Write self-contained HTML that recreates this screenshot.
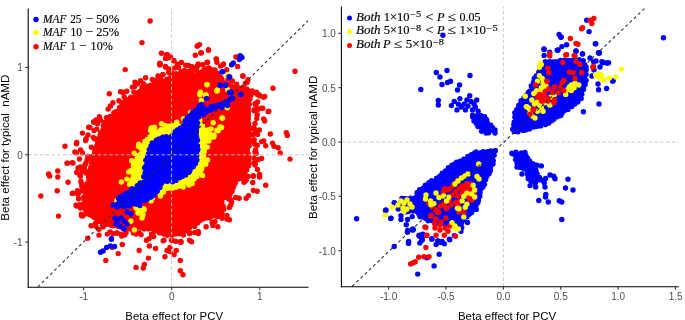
<!DOCTYPE html>
<html><head><meta charset="utf-8"><title>Beta effect scatter</title>
<style>html,body{margin:0;padding:0;background:#fff;width:685px;height:320px;overflow:hidden}svg{display:block}</style>
</head><body>
<svg width="685" height="320" viewBox="0 0 685 320">
<rect width="685" height="320" fill="#fff"/>
<g fill="#ff0000"><path d="M82.6 206.4 L83.1 196.3 L86.5 186.4 L90.1 170.3 L92.1 159.2 L96 146.1 L99.5 135 L103.5 125.6 L106.3 117.9 L116.1 110.5 L121.9 103 L130.4 96.2 L134 97.1 L142.2 87.3 L151 85.2 L160.6 82.8 L170.2 78 L176.4 73.3 L183.8 70.4 L189 70 L195.5 74.1 L203.9 69.9 L211.1 68.6 L215.2 70.6 L219.3 72.7 L220.8 77 L224.3 82.2 L229.4 84 L236 87.2 L244 86.6 L252.1 91.4 L251.2 99.8 L249.4 109.2 L248.4 118.8 L249.4 130.1 L250.3 141.2 L248.4 149.9 L249.4 166.7 L246.2 174 L235.2 182.8 L231 195.6 L221.6 197.9 L224 210 L222.2 219.1 L212.5 217.2 L203.1 219.5 L194.1 226.2 L183.4 232.5 L172.8 235.4 L166.3 236.3 L163.2 234.5 L154.5 231.6 L148.8 230.1 L141.4 228.7 L135.7 230.1 L124.3 228.4 L106.6 225 L91.5 216.7Z"/><circle cx="83.1" cy="207" r="2.7"/><circle cx="83.6" cy="203.6" r="2.7"/><circle cx="84.1" cy="199.3" r="2.7"/><circle cx="83.7" cy="197.1" r="2.7"/><circle cx="85.3" cy="192.5" r="2.7"/><circle cx="85.3" cy="189.8" r="2.7"/><circle cx="86.3" cy="186.2" r="2.7"/><circle cx="87" cy="183.6" r="2.7"/><circle cx="88.9" cy="180.7" r="2.7"/><circle cx="88.6" cy="177.2" r="2.7"/><circle cx="90.1" cy="173.1" r="2.7"/><circle cx="91.2" cy="171.2" r="2.7"/><circle cx="90.8" cy="167.4" r="2.7"/><circle cx="91.7" cy="163" r="2.7"/><circle cx="93.3" cy="159.8" r="2.7"/><circle cx="93" cy="155.9" r="2.7"/><circle cx="94.6" cy="152.5" r="2.7"/><circle cx="95" cy="149.2" r="2.7"/><circle cx="96.9" cy="145.4" r="2.7"/><circle cx="97.7" cy="142.4" r="2.7"/><circle cx="98" cy="138.6" r="2.7"/><circle cx="100.2" cy="135.1" r="2.7"/><circle cx="100.6" cy="132.8" r="2.7"/><circle cx="103.1" cy="129.6" r="2.7"/><circle cx="103.3" cy="125.4" r="2.7"/><circle cx="104.6" cy="122.4" r="2.7"/><circle cx="106.4" cy="117.6" r="2.7"/><circle cx="109.9" cy="116.4" r="2.7"/><circle cx="113.8" cy="113" r="2.7"/><circle cx="115.9" cy="111.6" r="2.7"/><circle cx="119.5" cy="107.5" r="2.7"/><circle cx="121.6" cy="102.7" r="2.7"/><circle cx="125.3" cy="101" r="2.7"/><circle cx="127" cy="99.6" r="2.7"/><circle cx="130.7" cy="97.2" r="2.7"/><circle cx="133.5" cy="98.2" r="2.7"/><circle cx="135.5" cy="95.8" r="2.7"/><circle cx="138.2" cy="92.5" r="2.7"/><circle cx="140.5" cy="90.9" r="2.7"/><circle cx="142.1" cy="87.2" r="2.7"/><circle cx="146.8" cy="86.3" r="2.7"/><circle cx="150.5" cy="85.1" r="2.7"/><circle cx="153.6" cy="84.4" r="2.7"/><circle cx="157.2" cy="83.8" r="2.7"/><circle cx="161.1" cy="82.9" r="2.7"/><circle cx="164" cy="81.1" r="2.7"/><circle cx="167" cy="79.3" r="2.7"/><circle cx="170.1" cy="77.6" r="2.7"/><circle cx="174" cy="76.2" r="2.7"/><circle cx="176.1" cy="73.7" r="2.7"/><circle cx="181" cy="71.7" r="2.7"/><circle cx="184.4" cy="70.8" r="2.7"/><circle cx="188.9" cy="71.1" r="2.7"/><circle cx="192" cy="72.6" r="2.7"/><circle cx="195.8" cy="75.5" r="2.7"/><circle cx="198.1" cy="73.8" r="2.7"/><circle cx="201.5" cy="72.1" r="2.7"/><circle cx="203.9" cy="70.2" r="2.7"/><circle cx="206.8" cy="69.2" r="2.7"/><circle cx="210.3" cy="69.5" r="2.7"/><circle cx="214.6" cy="70.5" r="2.7"/><circle cx="218.2" cy="73.6" r="2.7"/><circle cx="220.9" cy="77.5" r="2.7"/><circle cx="221.8" cy="79.5" r="2.7"/><circle cx="223.6" cy="82.6" r="2.7"/><circle cx="228.6" cy="84.4" r="2.7"/><circle cx="232.2" cy="86.8" r="2.7"/><circle cx="236.6" cy="87.8" r="2.7"/><circle cx="239.5" cy="88.2" r="2.7"/><circle cx="243.6" cy="86.9" r="2.7"/><circle cx="246.9" cy="89.2" r="2.7"/><circle cx="251.5" cy="91.7" r="2.7"/><circle cx="250.7" cy="95.7" r="2.7"/><circle cx="249.9" cy="99.3" r="2.7"/><circle cx="249.2" cy="104.2" r="2.7"/><circle cx="248.2" cy="108.3" r="2.7"/><circle cx="248.3" cy="111.9" r="2.7"/><circle cx="248.4" cy="115.6" r="2.7"/><circle cx="248.3" cy="119" r="2.7"/><circle cx="248.6" cy="123.2" r="2.7"/><circle cx="248.4" cy="126.1" r="2.7"/><circle cx="249.7" cy="129.6" r="2.7"/><circle cx="249.6" cy="134.1" r="2.7"/><circle cx="248.8" cy="138" r="2.7"/><circle cx="250.4" cy="141.4" r="2.7"/><circle cx="249.2" cy="146" r="2.7"/><circle cx="247.3" cy="149.9" r="2.7"/><circle cx="248.1" cy="153.7" r="2.7"/><circle cx="248.8" cy="157.1" r="2.7"/><circle cx="248.6" cy="160.5" r="2.7"/><circle cx="249" cy="163.6" r="2.7"/><circle cx="248.4" cy="165.9" r="2.7"/><circle cx="246.7" cy="169.9" r="2.7"/><circle cx="245.1" cy="174.2" r="2.7"/><circle cx="243.1" cy="176.1" r="2.7"/><circle cx="240.5" cy="178.4" r="2.7"/><circle cx="237.5" cy="179.5" r="2.7"/><circle cx="235.3" cy="182.9" r="2.7"/><circle cx="233.8" cy="185.8" r="2.7"/><circle cx="232.9" cy="188.2" r="2.7"/><circle cx="232" cy="191.6" r="2.7"/><circle cx="229.9" cy="194.8" r="2.7"/><circle cx="227.8" cy="195.5" r="2.7"/><circle cx="224.6" cy="197.5" r="2.7"/><circle cx="221.1" cy="197.4" r="2.7"/><circle cx="221.8" cy="202" r="2.7"/><circle cx="223.1" cy="206" r="2.7"/><circle cx="223.7" cy="209.3" r="2.7"/><circle cx="222.1" cy="213.9" r="2.7"/><circle cx="222.2" cy="218.2" r="2.7"/><circle cx="217.2" cy="216.8" r="2.7"/><circle cx="211.7" cy="216.3" r="2.7"/><circle cx="209.5" cy="217.8" r="2.7"/><circle cx="206.4" cy="217.9" r="2.7"/><circle cx="202.9" cy="219" r="2.7"/><circle cx="199.8" cy="220.7" r="2.7"/><circle cx="197.5" cy="223" r="2.7"/><circle cx="194.6" cy="226.4" r="2.7"/><circle cx="189.5" cy="227.8" r="2.7"/><circle cx="187.2" cy="230.7" r="2.7"/><circle cx="183.1" cy="231.7" r="2.7"/><circle cx="179.2" cy="233.7" r="2.7"/><circle cx="175.7" cy="234.1" r="2.7"/><circle cx="172.1" cy="235" r="2.7"/><circle cx="167.1" cy="235.2" r="2.7"/><circle cx="163.9" cy="234.1" r="2.7"/><circle cx="159.6" cy="232.9" r="2.7"/><circle cx="154.2" cy="231.7" r="2.7"/><circle cx="148.8" cy="228.9" r="2.7"/><circle cx="144.3" cy="228.9" r="2.7"/><circle cx="141.3" cy="227.8" r="2.7"/><circle cx="135.1" cy="229.3" r="2.7"/><circle cx="131.6" cy="229.6" r="2.7"/><circle cx="127.3" cy="228.9" r="2.7"/><circle cx="124.9" cy="227.3" r="2.7"/><circle cx="121.5" cy="227.6" r="2.7"/><circle cx="117.9" cy="226.2" r="2.7"/><circle cx="113.6" cy="225.7" r="2.7"/><circle cx="111" cy="225.3" r="2.7"/><circle cx="106.5" cy="224.4" r="2.7"/><circle cx="103.4" cy="222.1" r="2.7"/><circle cx="100.1" cy="221.8" r="2.7"/><circle cx="97.5" cy="220.3" r="2.7"/><circle cx="94.4" cy="217.6" r="2.7"/><circle cx="91.9" cy="215.8" r="2.7"/><circle cx="89.5" cy="214.6" r="2.7"/><circle cx="88.1" cy="211.8" r="2.7"/><circle cx="85.5" cy="209.4" r="2.7"/><circle cx="252.8" cy="92.8" r="2.7"/><circle cx="259.4" cy="95" r="2.7"/><circle cx="263.7" cy="97.2" r="2.7"/><circle cx="255" cy="103.7" r="2.7"/><circle cx="261.6" cy="108.1" r="2.7"/><circle cx="268.1" cy="111.6" r="2.7"/><circle cx="257.2" cy="114.7" r="2.7"/><circle cx="263.7" cy="119" r="2.7"/><circle cx="255" cy="123.4" r="2.7"/><circle cx="259.4" cy="130" r="2.7"/><circle cx="252.8" cy="134.4" r="2.7"/><circle cx="263.7" cy="140.9" r="2.7"/><circle cx="257.2" cy="145.3" r="2.7"/><circle cx="272.5" cy="143.1" r="2.7"/><circle cx="255" cy="151.9" r="2.7"/><circle cx="261.6" cy="158.4" r="2.7"/><circle cx="255" cy="165" r="2.7"/><circle cx="259.4" cy="174.6" r="2.7"/><circle cx="252.8" cy="182.5" r="2.7"/><circle cx="257.2" cy="191.2" r="2.7"/><circle cx="248.4" cy="195.6" r="2.7"/><circle cx="254" cy="110" r="2.7"/><circle cx="254" cy="140" r="2.7"/><circle cx="254" cy="158" r="2.7"/><circle cx="76.7" cy="142.5" r="2.7"/><circle cx="86.1" cy="138.7" r="2.7"/><circle cx="74.9" cy="151.9" r="2.7"/><circle cx="80.5" cy="150" r="2.7"/><circle cx="67.4" cy="163.1" r="2.7"/><circle cx="73" cy="163.1" r="2.7"/><circle cx="80.5" cy="166.9" r="2.7"/><circle cx="76.7" cy="172.5" r="2.7"/><circle cx="84.2" cy="168.7" r="2.7"/><circle cx="80.5" cy="176.2" r="2.7"/><circle cx="84.2" cy="187.5" r="2.7"/><circle cx="80.5" cy="191.2" r="2.7"/><circle cx="73" cy="193.1" r="2.7"/><circle cx="78.6" cy="198.7" r="2.7"/><circle cx="80.5" cy="208.1" r="2.7"/><circle cx="86.1" cy="213.7" r="2.7"/><circle cx="93.6" cy="215.6" r="2.7"/><circle cx="95.5" cy="223.1" r="2.7"/><circle cx="103" cy="226.9" r="2.7"/><circle cx="88" cy="135" r="2.7"/><circle cx="82.4" cy="133.1" r="2.7"/><circle cx="89.9" cy="127.5" r="2.7"/><circle cx="93.6" cy="121.9" r="2.7"/><circle cx="97.4" cy="123.7" r="2.7"/><circle cx="150.1" cy="21" r="2.7"/><circle cx="142" cy="42.6" r="2.7"/><circle cx="161.4" cy="53.3" r="2.7"/><circle cx="166.3" cy="55" r="2.7"/><circle cx="165.5" cy="58.4" r="2.7"/><circle cx="159.7" cy="63.2" r="2.7"/><circle cx="173.5" cy="60.5" r="2.7"/><circle cx="181.4" cy="62.5" r="2.7"/><circle cx="197.4" cy="46.1" r="2.7"/><circle cx="199.5" cy="44.6" r="2.7"/><circle cx="195.3" cy="55.3" r="2.7"/><circle cx="200.9" cy="52.9" r="2.7"/><circle cx="208.5" cy="50.2" r="2.7"/><circle cx="216.3" cy="59" r="2.7"/><circle cx="198.2" cy="64" r="2.7"/><circle cx="207" cy="62.5" r="2.7"/><circle cx="223.5" cy="64" r="2.7"/><circle cx="235.9" cy="57" r="2.7"/><circle cx="167.2" cy="54.5" r="2.7"/><circle cx="168" cy="57.9" r="2.7"/><circle cx="170.6" cy="57" r="2.7"/><circle cx="174" cy="60.8" r="2.7"/><circle cx="160.3" cy="64.2" r="2.7"/><circle cx="165.5" cy="66.5" r="2.7"/><circle cx="168.9" cy="69" r="2.7"/><circle cx="171.5" cy="72.5" r="2.7"/><circle cx="178.4" cy="67.3" r="2.7"/><circle cx="184.4" cy="70.8" r="2.7"/><circle cx="162.9" cy="74.6" r="2.7"/><circle cx="188.7" cy="72.5" r="2.7"/><circle cx="192.1" cy="67.3" r="2.7"/><circle cx="194.7" cy="68.2" r="2.7"/><circle cx="198.1" cy="65.3" r="2.7"/><circle cx="201.2" cy="52.7" r="2.7"/><circle cx="197.3" cy="45.9" r="2.7"/><circle cx="208.4" cy="49.8" r="2.7"/><circle cx="207.6" cy="62.2" r="2.7"/><circle cx="216.2" cy="59.1" r="2.7"/><circle cx="205" cy="69" r="2.7"/><circle cx="209" cy="68" r="2.7"/><circle cx="212" cy="70" r="2.7"/><circle cx="215" cy="70" r="2.7"/><circle cx="223" cy="64.8" r="2.7"/><circle cx="237.6" cy="66.5" r="2.7"/><circle cx="242.8" cy="76" r="2.7"/><circle cx="245.4" cy="83.1" r="2.7"/><circle cx="248" cy="90.5" r="2.7"/><circle cx="252.2" cy="91" r="2.7"/><circle cx="125.2" cy="69.6" r="2.7"/><circle cx="109.3" cy="93.8" r="2.7"/><circle cx="120.6" cy="91.8" r="2.7"/><circle cx="126.8" cy="91.2" r="2.7"/><circle cx="135" cy="82.1" r="2.7"/><circle cx="143.3" cy="83.6" r="2.7"/><circle cx="162.8" cy="74.7" r="2.7"/><circle cx="159.7" cy="65" r="2.7"/><circle cx="165.5" cy="67" r="2.7"/><circle cx="96" cy="120" r="2.7"/><circle cx="243" cy="76" r="2.7"/><circle cx="259.6" cy="95.9" r="2.7"/><circle cx="264.7" cy="96.5" r="2.7"/><circle cx="273" cy="88.3" r="2.7"/><circle cx="295" cy="71.2" r="2.7"/><circle cx="268.8" cy="111.3" r="2.7"/><circle cx="262.7" cy="108.3" r="2.7"/><circle cx="257.5" cy="102" r="2.7"/><circle cx="65" cy="146.3" r="2.7"/><circle cx="67.1" cy="163.2" r="2.7"/><circle cx="72.3" cy="162.6" r="2.7"/><circle cx="48.6" cy="174" r="2.7"/><circle cx="57.8" cy="171" r="2.7"/><circle cx="76.4" cy="143.7" r="2.7"/><circle cx="85.6" cy="140.6" r="2.7"/><circle cx="88.7" cy="127.2" r="2.7"/><circle cx="93.9" cy="122" r="2.7"/><circle cx="76.4" cy="152.9" r="2.7"/><circle cx="82.5" cy="153" r="2.7"/><circle cx="79.5" cy="159" r="2.7"/><circle cx="78" cy="168" r="2.7"/><circle cx="82" cy="171" r="2.7"/><circle cx="86" cy="173" r="2.7"/><circle cx="90" cy="170" r="2.7"/><circle cx="80" cy="175" r="2.7"/><circle cx="85" cy="165" r="2.7"/><circle cx="264.7" cy="121" r="2.7"/><circle cx="257.5" cy="134.4" r="2.7"/><circle cx="270.3" cy="134" r="2.7"/><circle cx="286.3" cy="132.8" r="2.7"/><circle cx="287.4" cy="135.4" r="2.7"/><circle cx="265.7" cy="145.7" r="2.7"/><circle cx="274" cy="146.3" r="2.7"/><circle cx="278.1" cy="147.8" r="2.7"/><circle cx="280.2" cy="153" r="2.7"/><circle cx="290" cy="159.1" r="2.7"/><circle cx="258.5" cy="159.5" r="2.7"/><circle cx="257.5" cy="169.4" r="2.7"/><circle cx="259.6" cy="174.5" r="2.7"/><circle cx="255.5" cy="150.9" r="2.7"/><circle cx="261.6" cy="141.6" r="2.7"/><circle cx="254" cy="128" r="2.7"/><circle cx="254" cy="140" r="2.7"/><circle cx="40.8" cy="196" r="2.7"/><circle cx="57.2" cy="190.8" r="2.7"/><circle cx="58.5" cy="216.1" r="2.7"/><circle cx="68.1" cy="182.2" r="2.7"/><circle cx="72.3" cy="193.5" r="2.7"/><circle cx="77.4" cy="190.8" r="2.7"/><circle cx="81.9" cy="186.3" r="2.7"/><circle cx="79.5" cy="204.8" r="2.7"/><circle cx="49.6" cy="176" r="2.7"/><circle cx="57.8" cy="177" r="2.7"/><circle cx="265.7" cy="185.3" r="2.7"/><circle cx="253.4" cy="190.4" r="2.7"/><circle cx="246.2" cy="198.2" r="2.7"/><circle cx="259.6" cy="177" r="2.7"/><circle cx="245.2" cy="181.1" r="2.7"/><circle cx="87.7" cy="238.2" r="2.7"/><circle cx="99" cy="235.1" r="2.7"/><circle cx="107.3" cy="234.1" r="2.7"/><circle cx="116.5" cy="233" r="2.7"/><circle cx="121.7" cy="236.1" r="2.7"/><circle cx="124.7" cy="235.1" r="2.7"/><circle cx="136" cy="234.1" r="2.7"/><circle cx="122.3" cy="244.4" r="2.7"/><circle cx="118.2" cy="253.6" r="2.7"/><circle cx="105.8" cy="260.4" r="2.7"/><circle cx="139.2" cy="250.5" r="2.7"/><circle cx="149.4" cy="246" r="2.7"/><circle cx="155.6" cy="248.5" r="2.7"/><circle cx="148.4" cy="258.1" r="2.7"/><circle cx="144.3" cy="264.5" r="2.7"/><circle cx="143.3" cy="268" r="2.7"/><circle cx="136" cy="267.4" r="2.7"/><circle cx="146.4" cy="240.2" r="2.7"/><circle cx="151.5" cy="234.1" r="2.7"/><circle cx="163.9" cy="240.2" r="2.7"/><circle cx="164.9" cy="256.7" r="2.7"/><circle cx="167" cy="250.5" r="2.7"/><circle cx="112.4" cy="247.4" r="2.7"/><circle cx="173.1" cy="233" r="2.7"/><circle cx="183.4" cy="235.1" r="2.7"/><circle cx="189.6" cy="233.6" r="2.7"/><circle cx="194.7" cy="232.6" r="2.7"/><circle cx="175.6" cy="241.3" r="2.7"/><circle cx="180.9" cy="242.3" r="2.7"/><circle cx="189.6" cy="240.2" r="2.7"/><circle cx="191.6" cy="241.7" r="2.7"/><circle cx="170" cy="247.4" r="2.7"/><circle cx="176.2" cy="250.5" r="2.7"/><circle cx="174.1" cy="254.6" r="2.7"/><circle cx="170" cy="251.6" r="2.7"/><circle cx="180.3" cy="260.4" r="2.7"/><circle cx="180.3" cy="270.7" r="2.7"/><circle cx="183" cy="274.8" r="2.7"/><circle cx="76" cy="205.1" r="2.7"/><circle cx="76.6" cy="206" r="2.7"/><circle cx="77.7" cy="194" r="2.7"/><circle cx="78" cy="194.3" r="2.7"/><circle cx="81.6" cy="183.7" r="2.7"/><circle cx="85.8" cy="172.3" r="2.7"/><circle cx="80.9" cy="181.4" r="2.7"/><circle cx="86" cy="162.9" r="2.7"/><circle cx="88.7" cy="158.8" r="2.7"/><circle cx="87.2" cy="159.8" r="2.7"/><circle cx="87.9" cy="156.3" r="2.7"/><circle cx="91.4" cy="147.3" r="2.7"/><circle cx="93.3" cy="137.4" r="2.7"/><circle cx="94.7" cy="138.9" r="2.7"/><circle cx="94" cy="130.4" r="2.7"/><circle cx="96.7" cy="129.1" r="2.7"/><circle cx="100.4" cy="120.2" r="2.7"/><circle cx="99.4" cy="116.7" r="2.7"/><circle cx="108.1" cy="109.1" r="2.7"/><circle cx="110.4" cy="105.9" r="2.7"/><circle cx="118.9" cy="100.7" r="2.7"/><circle cx="112.9" cy="102.8" r="2.7"/><circle cx="124.2" cy="96.9" r="2.7"/><circle cx="123.3" cy="92.4" r="2.7"/><circle cx="133.8" cy="92.1" r="2.7"/><circle cx="134.5" cy="86.7" r="2.7"/><circle cx="132.3" cy="87.1" r="2.7"/><circle cx="137.7" cy="83.8" r="2.7"/><circle cx="140.6" cy="80.6" r="2.7"/><circle cx="145.6" cy="77.7" r="2.7"/><circle cx="152.4" cy="79.4" r="2.7"/><circle cx="156.5" cy="80.5" r="2.7"/><circle cx="160.6" cy="78.6" r="2.7"/><circle cx="158" cy="75.9" r="2.7"/><circle cx="168.7" cy="72.5" r="2.7"/><circle cx="174.8" cy="68" r="2.7"/><circle cx="177.5" cy="64.3" r="2.7"/><circle cx="188.4" cy="65.4" r="2.7"/><circle cx="185.7" cy="65.2" r="2.7"/><circle cx="196.6" cy="70.2" r="2.7"/><circle cx="192" cy="66.7" r="2.7"/><circle cx="197.3" cy="66.2" r="2.7"/><circle cx="202.7" cy="64.7" r="2.7"/><circle cx="216.9" cy="62.2" r="2.7"/><circle cx="220.5" cy="66.1" r="2.7"/><circle cx="226.8" cy="69.8" r="2.7"/><circle cx="229.8" cy="77" r="2.7"/><circle cx="227.8" cy="79.6" r="2.7"/><circle cx="231.2" cy="81" r="2.7"/><circle cx="232.4" cy="81" r="2.7"/><circle cx="236.6" cy="84.1" r="2.7"/><circle cx="247.1" cy="82.6" r="2.7"/><circle cx="247.9" cy="79.7" r="2.7"/><circle cx="256.5" cy="92.3" r="2.7"/><circle cx="256.9" cy="94.2" r="2.7"/><circle cx="258.1" cy="109.3" r="2.7"/><circle cx="256" cy="105.2" r="2.7"/><circle cx="254.3" cy="110.7" r="2.7"/><circle cx="253.2" cy="127.9" r="2.7"/><circle cx="256.7" cy="118.5" r="2.7"/><circle cx="255.6" cy="131.3" r="2.7"/><circle cx="255.4" cy="130" r="2.7"/><circle cx="255.5" cy="149.9" r="2.7"/><circle cx="254.8" cy="144.3" r="2.7"/><circle cx="255.2" cy="162.9" r="2.7"/><circle cx="254.1" cy="163" r="2.7"/><circle cx="256.2" cy="153.4" r="2.7"/><circle cx="253.5" cy="176.2" r="2.7"/><circle cx="253.2" cy="175.8" r="2.7"/><circle cx="244" cy="182.2" r="2.7"/><circle cx="248.2" cy="176.5" r="2.7"/><circle cx="246.3" cy="179.7" r="2.7"/><circle cx="236.1" cy="197.6" r="2.7"/><circle cx="239.1" cy="198.3" r="2.7"/><circle cx="235.7" cy="197.4" r="2.7"/><circle cx="230.9" cy="199.9" r="2.7"/><circle cx="231.6" cy="202.1" r="2.7"/><circle cx="229.3" cy="207.5" r="2.7"/><circle cx="230.7" cy="205.1" r="2.7"/><circle cx="228.7" cy="199.1" r="2.7"/><circle cx="229.5" cy="219.7" r="2.7"/><circle cx="227" cy="215.7" r="2.7"/><circle cx="227.2" cy="219.3" r="2.7"/><circle cx="212.1" cy="222.5" r="2.7"/><circle cx="217.8" cy="226.7" r="2.7"/><circle cx="215" cy="221.8" r="2.7"/><circle cx="212.8" cy="225.4" r="2.7"/><circle cx="206.1" cy="226.8" r="2.7"/><circle cx="198.2" cy="231.5" r="2.7"/><circle cx="190.1" cy="233" r="2.7"/><circle cx="198.3" cy="233.5" r="2.7"/><circle cx="180" cy="242" r="2.7"/><circle cx="180.9" cy="241.4" r="2.7"/><circle cx="172" cy="240.1" r="2.7"/><circle cx="171.4" cy="240.1" r="2.7"/><circle cx="163.2" cy="240.8" r="2.7"/><circle cx="153.7" cy="236.6" r="2.7"/><circle cx="149.2" cy="238.6" r="2.7"/><circle cx="141.1" cy="234.6" r="2.7"/><circle cx="138.9" cy="232.6" r="2.7"/><circle cx="133.4" cy="232.9" r="2.7"/><circle cx="126" cy="232.8" r="2.7"/><circle cx="110.1" cy="231.9" r="2.7"/><circle cx="117.3" cy="233.1" r="2.7"/><circle cx="112.9" cy="233.8" r="2.7"/><circle cx="121.2" cy="234.1" r="2.7"/><circle cx="98.9" cy="229.2" r="2.7"/><circle cx="95.9" cy="226.2" r="2.7"/><circle cx="91.1" cy="225.8" r="2.7"/><circle cx="81.4" cy="214.1" r="2.7"/><circle cx="81.6" cy="215.8" r="2.7"/><circle cx="82.8" cy="215.9" r="2.7"/></g>
<g fill="#ffff00"><path d="M160.6 129 L165.5 125.6 L181.8 125.4 L187.1 118.2 L192.2 114.7 L195.5 118.7 L197.7 129 L208.9 129.5 L210.5 134.2 L208.1 135.5 L205 144.7 L204.4 159.8 L202 171.2 L194 178.7 L185.2 183.6 L176.5 188.4 L162.5 189.9 L155.8 193.8 L152.5 198 L145.3 197.4 L138.8 195.6 L131.6 189.3 L131.4 180.4 L132.8 172.1 L134.2 161.2 L139.7 152.9 L143.9 141.7 L154.5 129.8Z"/><circle cx="161" cy="129.8" r="2.7"/><circle cx="165.1" cy="125.4" r="2.7"/><circle cx="169" cy="126.2" r="2.7"/><circle cx="172.1" cy="125.6" r="2.7"/><circle cx="175.7" cy="125.2" r="2.7"/><circle cx="178.5" cy="125.9" r="2.7"/><circle cx="182.8" cy="126.1" r="2.7"/><circle cx="185.4" cy="122.2" r="2.7"/><circle cx="187.1" cy="118.1" r="2.7"/><circle cx="192.8" cy="115.7" r="2.7"/><circle cx="194.7" cy="118.2" r="2.7"/><circle cx="195.8" cy="122.7" r="2.7"/><circle cx="196.4" cy="125.6" r="2.7"/><circle cx="197.5" cy="130.2" r="2.7"/><circle cx="200.6" cy="128.9" r="2.7"/><circle cx="204.5" cy="129.7" r="2.7"/><circle cx="208.8" cy="129.6" r="2.7"/><circle cx="210.4" cy="134.4" r="2.7"/><circle cx="207.7" cy="134.7" r="2.7"/><circle cx="207.4" cy="138" r="2.7"/><circle cx="206.1" cy="141" r="2.7"/><circle cx="204.1" cy="145" r="2.7"/><circle cx="204" cy="149.1" r="2.7"/><circle cx="204.2" cy="151.7" r="2.7"/><circle cx="203.6" cy="155.8" r="2.7"/><circle cx="204.2" cy="160.5" r="2.7"/><circle cx="202.6" cy="163.3" r="2.7"/><circle cx="201.9" cy="168" r="2.7"/><circle cx="201" cy="170.2" r="2.7"/><circle cx="198.3" cy="173.2" r="2.7"/><circle cx="197" cy="176.4" r="2.7"/><circle cx="194.1" cy="179.1" r="2.7"/><circle cx="191.5" cy="179.6" r="2.7"/><circle cx="187.4" cy="182.2" r="2.7"/><circle cx="185.4" cy="182.4" r="2.7"/><circle cx="182.4" cy="184.6" r="2.7"/><circle cx="179" cy="186.1" r="2.7"/><circle cx="175.8" cy="187.2" r="2.7"/><circle cx="172.5" cy="188.1" r="2.7"/><circle cx="170.1" cy="188.1" r="2.7"/><circle cx="166.6" cy="188.6" r="2.7"/><circle cx="162.1" cy="190" r="2.7"/><circle cx="159.4" cy="191.3" r="2.7"/><circle cx="154.8" cy="193.3" r="2.7"/><circle cx="152" cy="198.2" r="2.7"/><circle cx="148.3" cy="197" r="2.7"/><circle cx="146" cy="196.2" r="2.7"/><circle cx="142.1" cy="196.5" r="2.7"/><circle cx="139.5" cy="194.4" r="2.7"/><circle cx="134.8" cy="191.4" r="2.7"/><circle cx="132.8" cy="188.6" r="2.7"/><circle cx="132.4" cy="185.4" r="2.7"/><circle cx="131.6" cy="180.1" r="2.7"/><circle cx="133.3" cy="176.5" r="2.7"/><circle cx="132.9" cy="172.6" r="2.7"/><circle cx="133.5" cy="168.2" r="2.7"/><circle cx="133.4" cy="165.4" r="2.7"/><circle cx="135.4" cy="161.6" r="2.7"/><circle cx="137.2" cy="157.9" r="2.7"/><circle cx="137.9" cy="155.9" r="2.7"/><circle cx="140.9" cy="153.9" r="2.7"/><circle cx="141.4" cy="149" r="2.7"/><circle cx="142.8" cy="145.7" r="2.7"/><circle cx="145" cy="141.5" r="2.7"/><circle cx="147.4" cy="139.5" r="2.7"/><circle cx="150.1" cy="136.6" r="2.7"/><circle cx="152.3" cy="132.9" r="2.7"/><circle cx="154.5" cy="130.1" r="2.7"/><circle cx="136" cy="208" r="2.7"/><circle cx="140" cy="211" r="2.7"/><circle cx="144" cy="209" r="2.7"/><circle cx="138" cy="213" r="2.7"/><circle cx="151.9" cy="198.6" r="2.7"/><circle cx="162" cy="182" r="2.7"/><circle cx="166" cy="184" r="2.7"/><circle cx="169" cy="181" r="2.7"/><circle cx="200" cy="93.8" r="2.7"/><circle cx="205.7" cy="95.6" r="2.7"/><circle cx="216.9" cy="91" r="2.7"/><circle cx="227.2" cy="107.8" r="2.7"/><circle cx="222.6" cy="118.1" r="2.7"/><circle cx="221.6" cy="127.5" r="2.7"/><circle cx="216.9" cy="130.3" r="2.7"/><circle cx="214.1" cy="135" r="2.7"/><circle cx="213.2" cy="122.8" r="2.7"/><circle cx="190.7" cy="112.5" r="2.7"/><circle cx="121.3" cy="181.9" r="2.7"/><circle cx="126.9" cy="179.1" r="2.7"/><circle cx="117.5" cy="200.6" r="2.7"/><circle cx="130.8" cy="221.3" r="2.7"/><circle cx="134.3" cy="230" r="2.7"/><circle cx="140" cy="213" r="2.7"/><circle cx="142" cy="218" r="2.7"/><circle cx="139.5" cy="205.5" r="2.7"/><circle cx="144" cy="210" r="2.7"/><circle cx="141" cy="208" r="2.7"/><circle cx="143" cy="215" r="2.7"/><circle cx="206.9" cy="84.7" r="2.7"/><circle cx="217.2" cy="90.3" r="2.7"/><circle cx="200.4" cy="92.2" r="2.7"/><circle cx="206" cy="95" r="2.7"/><circle cx="199.8" cy="94.8" r="2.7"/><circle cx="227.3" cy="76" r="2.7"/><circle cx="227.7" cy="75.3" r="2.7"/><circle cx="207" cy="84.6" r="2.7"/><circle cx="217.4" cy="90.3" r="2.7"/><circle cx="227.7" cy="89.7" r="2.7"/><circle cx="192.7" cy="112.4" r="2.7"/><circle cx="201.3" cy="100.5" r="2.7"/><circle cx="205.6" cy="95" r="2.7"/><circle cx="222" cy="118" r="2.7"/><circle cx="220" cy="127" r="2.7"/><circle cx="218.2" cy="130.7" r="2.7"/><circle cx="212" cy="137" r="2.7"/><circle cx="213.8" cy="136.9" r="2.7"/><circle cx="116.8" cy="201" r="2.7"/><circle cx="164" cy="180" r="2.7"/><circle cx="168" cy="182" r="2.7"/><circle cx="172" cy="184" r="2.7"/><circle cx="161.5" cy="123.7" r="2.7"/><circle cx="176.7" cy="122.3" r="2.7"/><circle cx="183.4" cy="118.8" r="2.7"/><circle cx="194.3" cy="112.2" r="2.7"/><circle cx="199.8" cy="120.4" r="2.7"/><circle cx="202" cy="125.6" r="2.7"/><circle cx="202.4" cy="125.8" r="2.7"/><circle cx="211.1" cy="128.9" r="2.7"/><circle cx="208.9" cy="141.1" r="2.7"/><circle cx="207.5" cy="160" r="2.7"/><circle cx="207.3" cy="147.1" r="2.7"/><circle cx="205.7" cy="164.2" r="2.7"/><circle cx="202.6" cy="175.4" r="2.7"/><circle cx="188.9" cy="185" r="2.7"/><circle cx="192.1" cy="183.6" r="2.7"/><circle cx="183.2" cy="187.1" r="2.7"/><circle cx="163.5" cy="192.1" r="2.7"/><circle cx="160.5" cy="196" r="2.7"/><circle cx="151" cy="200.9" r="2.7"/><circle cx="137.6" cy="199.6" r="2.7"/><circle cx="137.6" cy="197.1" r="2.7"/><circle cx="130.5" cy="194.1" r="2.7"/><circle cx="129.6" cy="184.3" r="2.7"/><circle cx="128.6" cy="172.1" r="2.7"/><circle cx="131.7" cy="160.8" r="2.7"/><circle cx="130.7" cy="170.6" r="2.7"/><circle cx="134.2" cy="153.3" r="2.7"/><circle cx="138.8" cy="144.1" r="2.7"/><circle cx="138.5" cy="146.4" r="2.7"/><circle cx="150.6" cy="130.4" r="2.7"/><circle cx="151.3" cy="128" r="2.7"/><circle cx="154.4" cy="127.2" r="2.7"/></g>
<g fill="#0000ff"><path d="M170.7 136.6 L182.5 124.8 L187.5 117.3 L195 109.8 L198.4 105.2 L201.6 104.4 L203.3 108 L199.5 117.5 L197.4 126.8 L196.5 136.7 L197.9 145.1 L197.9 155.9 L195.3 164 L188.6 173.3 L180.4 178.7 L172.6 182.7 L164.3 181.2 L159.9 187.7 L158.3 192.1 L151 198 L144.7 201.2 L140.4 205.5 L132.9 203.9 L125.1 207.2 L118.3 206.5 L116.4 203.9 L121.8 195.9 L126.2 192.9 L132.5 188.2 L137.2 185.1 L143.5 180.9 L144.1 172 L145.5 160.9 L148.2 150 L152.1 142.1 L162.6 136.9Z"/><circle cx="171.3" cy="136.4" r="2.7"/><circle cx="172.8" cy="135.1" r="2.7"/><circle cx="175.3" cy="131.6" r="2.7"/><circle cx="177.4" cy="130" r="2.7"/><circle cx="180.2" cy="128.3" r="2.7"/><circle cx="183.5" cy="125.9" r="2.7"/><circle cx="185.1" cy="120.7" r="2.7"/><circle cx="187.3" cy="117.6" r="2.7"/><circle cx="190.8" cy="115.1" r="2.7"/><circle cx="192.5" cy="112.5" r="2.7"/><circle cx="195.6" cy="110.5" r="2.7"/><circle cx="199.1" cy="106.2" r="2.7"/><circle cx="201.6" cy="104.4" r="2.7"/><circle cx="203.3" cy="107.7" r="2.7"/><circle cx="201.6" cy="111" r="2.7"/><circle cx="200.6" cy="113.8" r="2.7"/><circle cx="198.6" cy="117" r="2.7"/><circle cx="197.4" cy="122.6" r="2.7"/><circle cx="197" cy="126.4" r="2.7"/><circle cx="196.4" cy="130.8" r="2.7"/><circle cx="196.3" cy="132.9" r="2.7"/><circle cx="196.5" cy="136.9" r="2.7"/><circle cx="197.5" cy="140.3" r="2.7"/><circle cx="197.4" cy="145.7" r="2.7"/><circle cx="197.9" cy="149.4" r="2.7"/><circle cx="196.7" cy="152" r="2.7"/><circle cx="196.8" cy="155.4" r="2.7"/><circle cx="196.9" cy="159.9" r="2.7"/><circle cx="195.5" cy="163.5" r="2.7"/><circle cx="193.2" cy="166.7" r="2.7"/><circle cx="190" cy="170.3" r="2.7"/><circle cx="188.9" cy="172.3" r="2.7"/><circle cx="185.7" cy="174.9" r="2.7"/><circle cx="182.4" cy="176.3" r="2.7"/><circle cx="179.6" cy="177.8" r="2.7"/><circle cx="175.9" cy="180.4" r="2.7"/><circle cx="172.7" cy="181.7" r="2.7"/><circle cx="167.5" cy="181.2" r="2.7"/><circle cx="164.3" cy="180.2" r="2.7"/><circle cx="161.4" cy="183.6" r="2.7"/><circle cx="159.9" cy="187.5" r="2.7"/><circle cx="157.2" cy="191.2" r="2.7"/><circle cx="154.2" cy="194.8" r="2.7"/><circle cx="151" cy="197" r="2.7"/><circle cx="147" cy="199.5" r="2.7"/><circle cx="144.2" cy="200.4" r="2.7"/><circle cx="139.9" cy="205.6" r="2.7"/><circle cx="136.3" cy="204.3" r="2.7"/><circle cx="132.7" cy="203.3" r="2.7"/><circle cx="129.5" cy="205.8" r="2.7"/><circle cx="124.8" cy="206.2" r="2.7"/><circle cx="122.2" cy="205.9" r="2.7"/><circle cx="117.8" cy="206.6" r="2.7"/><circle cx="116.9" cy="204.4" r="2.7"/><circle cx="119.4" cy="200.7" r="2.7"/><circle cx="122" cy="195.7" r="2.7"/><circle cx="125.7" cy="193.4" r="2.7"/><circle cx="129.9" cy="191.6" r="2.7"/><circle cx="132.1" cy="188.8" r="2.7"/><circle cx="137.3" cy="185.6" r="2.7"/><circle cx="140.2" cy="183" r="2.7"/><circle cx="144.1" cy="181.9" r="2.7"/><circle cx="143.7" cy="176.6" r="2.7"/><circle cx="145.1" cy="172.8" r="2.7"/><circle cx="144.6" cy="167.8" r="2.7"/><circle cx="146.2" cy="165.4" r="2.7"/><circle cx="145.9" cy="160.3" r="2.7"/><circle cx="147.6" cy="157.2" r="2.7"/><circle cx="148.4" cy="153.9" r="2.7"/><circle cx="149.2" cy="149.6" r="2.7"/><circle cx="151" cy="145.9" r="2.7"/><circle cx="152.3" cy="143" r="2.7"/><circle cx="156.4" cy="140.3" r="2.7"/><circle cx="158.9" cy="138.9" r="2.7"/><circle cx="162.8" cy="137.2" r="2.7"/><circle cx="166.2" cy="136.8" r="2.7"/><path d="M201.1 110 L210.5 107 L220.6 104 L228.8 99.9 L232.1 97.7 L232.4 98.2 L227.1 102.7 L218.3 107.1 L209.3 111.6 L202.9 114.8Z"/><circle cx="202.1" cy="111" r="2.7"/><circle cx="205.4" cy="109" r="2.7"/><circle cx="211" cy="106.8" r="2.7"/><circle cx="214.5" cy="105.9" r="2.7"/><circle cx="217.6" cy="105.6" r="2.7"/><circle cx="221" cy="104.1" r="2.7"/><circle cx="224.8" cy="102.5" r="2.7"/><circle cx="228.9" cy="100.6" r="2.7"/><circle cx="231.8" cy="98.3" r="2.7"/><circle cx="231" cy="98.3" r="2.7"/><circle cx="226.8" cy="101.8" r="2.7"/><circle cx="224.3" cy="104.1" r="2.7"/><circle cx="220.9" cy="104.6" r="2.7"/><circle cx="218" cy="106" r="2.7"/><circle cx="214.5" cy="108" r="2.7"/><circle cx="211.4" cy="109.5" r="2.7"/><circle cx="209.1" cy="110.4" r="2.7"/><circle cx="206.3" cy="111.9" r="2.7"/><circle cx="203.5" cy="114.5" r="2.7"/><circle cx="221.9" cy="71.9" r="2.7"/><circle cx="229.4" cy="77.5" r="2.7"/><circle cx="220" cy="85" r="2.7"/><circle cx="225.6" cy="85" r="2.7"/><circle cx="229.4" cy="92.5" r="2.7"/><circle cx="240.6" cy="94.4" r="2.7"/><circle cx="227.5" cy="105.6" r="2.7"/><circle cx="221.9" cy="107.5" r="2.7"/><circle cx="240.2" cy="55.7" r="2.7"/><circle cx="241.9" cy="57.4" r="2.7"/><circle cx="239.3" cy="59.6" r="2.7"/><circle cx="231.6" cy="64.8" r="2.7"/><circle cx="233.3" cy="63" r="2.7"/><circle cx="223" cy="71.6" r="2.7"/><circle cx="229" cy="76.8" r="2.7"/><circle cx="220.4" cy="85.4" r="2.7"/><circle cx="225.6" cy="85.4" r="2.7"/><circle cx="230.8" cy="92.3" r="2.7"/><circle cx="241" cy="94.5" r="2.7"/><circle cx="232.5" cy="98.3" r="2.7"/><circle cx="206.6" cy="98.4" r="2.7"/><circle cx="231" cy="92.3" r="2.7"/><circle cx="165.3" cy="181" r="2.7"/><circle cx="111.4" cy="239.2" r="2.7"/><circle cx="100.5" cy="252.2" r="2.7"/><circle cx="103.1" cy="251" r="2.7"/><circle cx="106.6" cy="247.4" r="2.7"/><circle cx="110.3" cy="246" r="2.7"/><circle cx="114.5" cy="246.4" r="2.7"/><circle cx="115" cy="218" r="2.7"/><circle cx="118" cy="220" r="2.7"/><circle cx="121" cy="218" r="2.7"/><circle cx="124" cy="221" r="2.7"/><circle cx="127" cy="224" r="2.7"/><circle cx="120" cy="226" r="2.7"/><circle cx="124" cy="229" r="2.7"/><circle cx="116" cy="224" r="2.7"/><circle cx="111.5" cy="238.8" r="2.7"/><circle cx="113" cy="205" r="2.7"/><circle cx="117" cy="207" r="2.7"/><circle cx="118.5" cy="198" r="2.7"/><circle cx="122" cy="197" r="2.7"/><circle cx="150" cy="197" r="2.7"/><circle cx="153" cy="195" r="2.7"/><circle cx="127" cy="212" r="2.7"/><circle cx="131" cy="214" r="2.7"/></g>
<line x1="171.6" y1="287.3" x2="171.6" y2="7.7" stroke="#c4c4c4" stroke-width="0.95" stroke-dasharray="3.3 2.5"/>
<line x1="28.2" y1="154.8" x2="308.5" y2="154.8" stroke="#c4c4c4" stroke-width="0.95" stroke-dasharray="3.3 2.5"/>
<line x1="37.8" y1="287" x2="308.1" y2="20.6" stroke="#2a2a2a" stroke-width="1.05" stroke-dasharray="3.1 2.7"/>
<g fill="#0000ff"><path d="M514.1 132.8 L512.2 129.6 L513.1 121.2 L514.8 111.8 L517.6 105.8 L523.3 98 L529.8 89.9 L534.5 78.7 L540 67.7 L544.8 61.5 L560.1 60.1 L574.9 59.6 L583 60.5 L586.4 66.5 L587.4 75 L586.4 80.7 L583.7 90.3 L582.3 99.1 L575 105 L565.7 111.2 L557.9 117.5 L548.7 123.5 L533.9 128 L522.7 131.4Z"/><circle cx="514.4" cy="131.5" r="2.7"/><circle cx="512.7" cy="129.3" r="2.7"/><circle cx="513.8" cy="124.8" r="2.7"/><circle cx="514.2" cy="122.1" r="2.7"/><circle cx="514.8" cy="117.1" r="2.7"/><circle cx="514.8" cy="112.7" r="2.7"/><circle cx="516.7" cy="109.7" r="2.7"/><circle cx="518.7" cy="105.5" r="2.7"/><circle cx="520.4" cy="104.2" r="2.7"/><circle cx="521.1" cy="100.6" r="2.7"/><circle cx="524.1" cy="97.7" r="2.7"/><circle cx="526.5" cy="95.2" r="2.7"/><circle cx="528.5" cy="92.3" r="2.7"/><circle cx="530.2" cy="90.9" r="2.7"/><circle cx="531.3" cy="86" r="2.7"/><circle cx="533.4" cy="82.4" r="2.7"/><circle cx="534.2" cy="78.4" r="2.7"/><circle cx="536.2" cy="75.9" r="2.7"/><circle cx="538.8" cy="72.2" r="2.7"/><circle cx="539.9" cy="68.4" r="2.7"/><circle cx="542.1" cy="65" r="2.7"/><circle cx="545.3" cy="61.8" r="2.7"/><circle cx="549.4" cy="61.7" r="2.7"/><circle cx="552.7" cy="61.9" r="2.7"/><circle cx="555.7" cy="61.7" r="2.7"/><circle cx="560.3" cy="60.4" r="2.7"/><circle cx="564.3" cy="60.1" r="2.7"/><circle cx="568.3" cy="60.5" r="2.7"/><circle cx="571" cy="60.7" r="2.7"/><circle cx="574.8" cy="59.6" r="2.7"/><circle cx="579.2" cy="59.8" r="2.7"/><circle cx="583.2" cy="60.6" r="2.7"/><circle cx="584.6" cy="64.6" r="2.7"/><circle cx="586.1" cy="66.9" r="2.7"/><circle cx="586.1" cy="70" r="2.7"/><circle cx="586.1" cy="74.4" r="2.7"/><circle cx="586.1" cy="80.4" r="2.7"/><circle cx="585.1" cy="84.4" r="2.7"/><circle cx="583.6" cy="86.5" r="2.7"/><circle cx="583.5" cy="89.4" r="2.7"/><circle cx="581.8" cy="94.3" r="2.7"/><circle cx="581.2" cy="98.6" r="2.7"/><circle cx="577.8" cy="101.9" r="2.7"/><circle cx="574.8" cy="104.1" r="2.7"/><circle cx="571.8" cy="106.6" r="2.7"/><circle cx="567.9" cy="109.4" r="2.7"/><circle cx="564.9" cy="110.2" r="2.7"/><circle cx="562.1" cy="113.1" r="2.7"/><circle cx="560.8" cy="115.5" r="2.7"/><circle cx="557.4" cy="116.7" r="2.7"/><circle cx="553.8" cy="119.3" r="2.7"/><circle cx="551.6" cy="120.8" r="2.7"/><circle cx="548.7" cy="123" r="2.7"/><circle cx="545.5" cy="124.6" r="2.7"/><circle cx="540.7" cy="125.9" r="2.7"/><circle cx="536.7" cy="126.4" r="2.7"/><circle cx="533.6" cy="127.1" r="2.7"/><circle cx="529.4" cy="129.1" r="2.7"/><circle cx="525.6" cy="129.9" r="2.7"/><circle cx="523.3" cy="130.4" r="2.7"/><circle cx="518" cy="131.8" r="2.7"/><path d="M495.3 150.2 L495.3 151.2 L494.4 160.2 L491.7 167.5 L487.9 176.9 L485.2 184.2 L481 189.3 L479.3 199.8 L474.3 209.7 L464.1 219.9 L459.4 226 L451.7 224.4 L440.3 224.4 L428.6 220.5 L419.2 216.8 L412.4 199.7 L417.4 192.9 L424.8 184.4 L432.1 180.8 L439.8 176 L445.5 170.2 L450.9 164.8 L460.1 160.2 L467.6 156.4 L476.7 151.9Z"/><circle cx="494.8" cy="150.9" r="2.7"/><circle cx="495.3" cy="150.7" r="2.7"/><circle cx="494.1" cy="155.3" r="2.7"/><circle cx="493.2" cy="160.7" r="2.7"/><circle cx="493" cy="164.1" r="2.7"/><circle cx="490.5" cy="167.9" r="2.7"/><circle cx="490.4" cy="170.4" r="2.7"/><circle cx="489.1" cy="173.5" r="2.7"/><circle cx="487" cy="176.1" r="2.7"/><circle cx="485.7" cy="179.6" r="2.7"/><circle cx="484.5" cy="184.3" r="2.7"/><circle cx="482.9" cy="187.1" r="2.7"/><circle cx="480.9" cy="188.7" r="2.7"/><circle cx="480" cy="192.5" r="2.7"/><circle cx="479.8" cy="196.2" r="2.7"/><circle cx="478.4" cy="199.9" r="2.7"/><circle cx="477.9" cy="202.4" r="2.7"/><circle cx="476.1" cy="205.3" r="2.7"/><circle cx="473.5" cy="208.9" r="2.7"/><circle cx="471.7" cy="212.6" r="2.7"/><circle cx="469.2" cy="214.2" r="2.7"/><circle cx="466.9" cy="216.8" r="2.7"/><circle cx="463.3" cy="220.3" r="2.7"/><circle cx="461.6" cy="222.9" r="2.7"/><circle cx="459.4" cy="226.2" r="2.7"/><circle cx="455.4" cy="225.2" r="2.7"/><circle cx="452" cy="224.5" r="2.7"/><circle cx="447.8" cy="224.3" r="2.7"/><circle cx="444.2" cy="223.6" r="2.7"/><circle cx="439.9" cy="224.1" r="2.7"/><circle cx="435.8" cy="223.3" r="2.7"/><circle cx="432" cy="220.6" r="2.7"/><circle cx="428.1" cy="220.7" r="2.7"/><circle cx="425.4" cy="218.2" r="2.7"/><circle cx="421.9" cy="216.9" r="2.7"/><circle cx="419.9" cy="216.6" r="2.7"/><circle cx="418.6" cy="213.4" r="2.7"/><circle cx="416.3" cy="209.9" r="2.7"/><circle cx="415.4" cy="206.9" r="2.7"/><circle cx="414.8" cy="203.7" r="2.7"/><circle cx="412.3" cy="200.4" r="2.7"/><circle cx="416" cy="197.2" r="2.7"/><circle cx="417.1" cy="192.7" r="2.7"/><circle cx="419.6" cy="189.7" r="2.7"/><circle cx="423.2" cy="188.1" r="2.7"/><circle cx="425.3" cy="185.3" r="2.7"/><circle cx="428.9" cy="182.7" r="2.7"/><circle cx="431.7" cy="180.6" r="2.7"/><circle cx="436.6" cy="178.3" r="2.7"/><circle cx="439.8" cy="176.2" r="2.7"/><circle cx="442.2" cy="173.1" r="2.7"/><circle cx="445.5" cy="170.9" r="2.7"/><circle cx="448.4" cy="167.6" r="2.7"/><circle cx="452" cy="165.2" r="2.7"/><circle cx="454.8" cy="163.9" r="2.7"/><circle cx="456.6" cy="162.1" r="2.7"/><circle cx="460.2" cy="161.1" r="2.7"/><circle cx="463.8" cy="159.1" r="2.7"/><circle cx="467.9" cy="156.4" r="2.7"/><circle cx="471.4" cy="154.7" r="2.7"/><circle cx="474.4" cy="153.3" r="2.7"/><circle cx="476.1" cy="151.9" r="2.7"/><circle cx="480.9" cy="152.8" r="2.7"/><circle cx="483.3" cy="151.7" r="2.7"/><circle cx="487.6" cy="151.8" r="2.7"/><circle cx="490.7" cy="151" r="2.7"/><path d="M400.1 201.8 L410.2 197.6 L418.8 198.5 L421.2 206.6 L416.3 212.4 L405 212.4Z"/><circle cx="400.6" cy="202.6" r="2.7"/><circle cx="403.6" cy="201.5" r="2.7"/><circle cx="406.8" cy="199" r="2.7"/><circle cx="410.6" cy="198.1" r="2.7"/><circle cx="413.7" cy="198.8" r="2.7"/><circle cx="417.7" cy="199.4" r="2.7"/><circle cx="419.8" cy="203.2" r="2.7"/><circle cx="420.9" cy="206.3" r="2.7"/><circle cx="418.2" cy="209" r="2.7"/><circle cx="416.7" cy="211.2" r="2.7"/><circle cx="413.1" cy="211.1" r="2.7"/><circle cx="408.4" cy="211.5" r="2.7"/><circle cx="406" cy="211.9" r="2.7"/><circle cx="403.6" cy="209.2" r="2.7"/><circle cx="401.9" cy="205.3" r="2.7"/><path d="M472.2 114.4 L485.5 115.6 L488 122 L493.5 127.4 L493.9 131.4 L489.2 133.5 L481.9 132.3 L478 127.1 L473.9 121.7 L471.4 116.8Z"/><circle cx="472.6" cy="115.3" r="2.7"/><circle cx="477.2" cy="115.6" r="2.7"/><circle cx="480.7" cy="115.4" r="2.7"/><circle cx="484.6" cy="116.6" r="2.7"/><circle cx="486.6" cy="119.6" r="2.7"/><circle cx="487.1" cy="122.2" r="2.7"/><circle cx="490.7" cy="125.1" r="2.7"/><circle cx="492.4" cy="127.6" r="2.7"/><circle cx="494" cy="130.7" r="2.7"/><circle cx="488.6" cy="132.7" r="2.7"/><circle cx="486" cy="133" r="2.7"/><circle cx="481.6" cy="131.3" r="2.7"/><circle cx="478" cy="126.6" r="2.7"/><circle cx="476.4" cy="123.6" r="2.7"/><circle cx="474" cy="120.9" r="2.7"/><circle cx="472.7" cy="117.1" r="2.7"/><path d="M512 152 L525 152 L530.4 161.5 L537.2 164.9 L536.3 170.3 L540.2 177.1 L538.7 180 L535.2 183.3 L531 182.5 L527.4 178.3 L525.9 170.4 L520 167.5 L514.7 159.5 L512 154.3Z"/><circle cx="511.9" cy="153.2" r="2.7"/><circle cx="515.9" cy="152.3" r="2.7"/><circle cx="521.4" cy="153" r="2.7"/><circle cx="525" cy="152.4" r="2.7"/><circle cx="526" cy="155.9" r="2.7"/><circle cx="527.6" cy="158.3" r="2.7"/><circle cx="529.8" cy="161.2" r="2.7"/><circle cx="533.2" cy="164" r="2.7"/><circle cx="537" cy="165.2" r="2.7"/><circle cx="536" cy="170.3" r="2.7"/><circle cx="537.1" cy="173.9" r="2.7"/><circle cx="539.5" cy="177.5" r="2.7"/><circle cx="538.9" cy="179.6" r="2.7"/><circle cx="535.2" cy="183.1" r="2.7"/><circle cx="531.1" cy="181.6" r="2.7"/><circle cx="528.2" cy="178.7" r="2.7"/><circle cx="527.6" cy="174.4" r="2.7"/><circle cx="526.9" cy="170.4" r="2.7"/><circle cx="523.6" cy="168.5" r="2.7"/><circle cx="520" cy="167.3" r="2.7"/><circle cx="517.1" cy="163" r="2.7"/><circle cx="515.6" cy="159.6" r="2.7"/><circle cx="512.7" cy="153.8" r="2.7"/><circle cx="590" cy="58" r="2.7"/><circle cx="596" cy="61" r="2.7"/><circle cx="594" cy="70" r="2.7"/><circle cx="600" cy="67" r="2.7"/><circle cx="592" cy="76" r="2.7"/><circle cx="598" cy="84" r="2.7"/><circle cx="586.7" cy="20.3" r="2.7"/><circle cx="589.1" cy="31.6" r="2.7"/><circle cx="559.1" cy="34.4" r="2.7"/><circle cx="561" cy="37.2" r="2.7"/><circle cx="595.7" cy="43.8" r="2.7"/><circle cx="544.1" cy="49.4" r="2.7"/><circle cx="544.1" cy="55.4" r="2.7"/><circle cx="549.7" cy="52.2" r="2.7"/><circle cx="561.9" cy="46.6" r="2.7"/><circle cx="566.6" cy="44.7" r="2.7"/><circle cx="557.2" cy="50.3" r="2.7"/><circle cx="576" cy="51.3" r="2.7"/><circle cx="582.5" cy="54.1" r="2.7"/><circle cx="598.5" cy="52.8" r="2.7"/><circle cx="663.4" cy="37.8" r="2.7"/><circle cx="595.3" cy="43.8" r="2.7"/><circle cx="599.1" cy="53.2" r="2.7"/><circle cx="593.4" cy="61.6" r="2.7"/><circle cx="601.9" cy="61.6" r="2.7"/><circle cx="607.5" cy="62.9" r="2.7"/><circle cx="602.8" cy="62.8" r="2.7"/><circle cx="608.5" cy="62.8" r="2.7"/><circle cx="613.1" cy="80.6" r="2.7"/><circle cx="606.6" cy="88.5" r="2.7"/><circle cx="598.6" cy="89.8" r="2.7"/><circle cx="599" cy="103.9" r="2.7"/><circle cx="583.4" cy="111.7" r="2.7"/><circle cx="612.7" cy="81.3" r="2.7"/><circle cx="603.2" cy="62.2" r="2.7"/><circle cx="607" cy="63.1" r="2.7"/><circle cx="599.4" cy="52.8" r="2.7"/><circle cx="576" cy="51" r="2.7"/><circle cx="582.5" cy="53.8" r="2.7"/><circle cx="561" cy="36.9" r="2.7"/><circle cx="544" cy="49" r="2.7"/><circle cx="558.1" cy="50" r="2.7"/><circle cx="442.9" cy="35.3" r="2.7"/><circle cx="420.8" cy="89.5" r="2.7"/><circle cx="436.3" cy="72.5" r="2.7"/><circle cx="440" cy="77" r="2.7"/><circle cx="447" cy="70.5" r="2.7"/><circle cx="442" cy="84.5" r="2.7"/><circle cx="447.5" cy="82.5" r="2.7"/><circle cx="450.5" cy="81.3" r="2.7"/><circle cx="470" cy="75.5" r="2.7"/><circle cx="459.5" cy="85" r="2.7"/><circle cx="457.5" cy="90" r="2.7"/><circle cx="438.3" cy="100.5" r="2.7"/><circle cx="438.3" cy="105" r="2.7"/><circle cx="451.4" cy="105.6" r="2.7"/><circle cx="454.2" cy="101.4" r="2.7"/><circle cx="457" cy="109.9" r="2.7"/><circle cx="459.9" cy="98.6" r="2.7"/><circle cx="464.1" cy="104.2" r="2.7"/><circle cx="465.5" cy="109.9" r="2.7"/><circle cx="466.9" cy="100" r="2.7"/><circle cx="469.7" cy="95.8" r="2.7"/><circle cx="471.1" cy="101.4" r="2.7"/><circle cx="476.7" cy="100" r="2.7"/><circle cx="475.3" cy="107" r="2.7"/><circle cx="478.1" cy="111.3" r="2.7"/><circle cx="472.5" cy="109.9" r="2.7"/><circle cx="461.3" cy="107" r="2.7"/><circle cx="458.4" cy="104.2" r="2.7"/><circle cx="468" cy="106" r="2.7"/><circle cx="474" cy="104" r="2.7"/><circle cx="545" cy="187" r="2.7"/><circle cx="550" cy="175" r="2.7"/><circle cx="553.8" cy="176.3" r="2.7"/><circle cx="555" cy="178.8" r="2.7"/><circle cx="568" cy="179.3" r="2.7"/><circle cx="565.5" cy="188" r="2.7"/><circle cx="573" cy="190" r="2.7"/><circle cx="545.8" cy="194.5" r="2.7"/><circle cx="545.5" cy="197" r="2.7"/><circle cx="538.8" cy="200.5" r="2.7"/><circle cx="548.3" cy="202" r="2.7"/><circle cx="559.3" cy="200.8" r="2.7"/><circle cx="561.8" cy="202" r="2.7"/><circle cx="561.8" cy="219.5" r="2.7"/><circle cx="541" cy="180" r="2.7"/><circle cx="541.3" cy="165.9" r="2.7"/><circle cx="545.6" cy="178.5" r="2.7"/><circle cx="544.2" cy="182.8" r="2.7"/><circle cx="537.1" cy="180" r="2.7"/><circle cx="535.7" cy="187" r="2.7"/><circle cx="530.1" cy="185.6" r="2.7"/><circle cx="522" cy="174" r="2.7"/><circle cx="517" cy="167" r="2.7"/><circle cx="356.6" cy="218.8" r="2.7"/><circle cx="386" cy="210" r="2.7"/><circle cx="390.7" cy="218.5" r="2.7"/><circle cx="394.5" cy="202.9" r="2.7"/><circle cx="398.2" cy="209.1" r="2.7"/><circle cx="401" cy="215.6" r="2.7"/><circle cx="401" cy="219.4" r="2.7"/><circle cx="407.6" cy="219.4" r="2.7"/><circle cx="412.3" cy="216.6" r="2.7"/><circle cx="404.8" cy="198.8" r="2.7"/><circle cx="412.3" cy="200.6" r="2.7"/><circle cx="416" cy="202.5" r="2.7"/><circle cx="407.6" cy="231" r="2.7"/><circle cx="413.2" cy="229.7" r="2.7"/><circle cx="419.8" cy="235.3" r="2.7"/><circle cx="423.5" cy="235.3" r="2.7"/><circle cx="407.7" cy="230.4" r="2.7"/><circle cx="412.9" cy="229.5" r="2.7"/><circle cx="418.9" cy="235.5" r="2.7"/><circle cx="422.3" cy="239.8" r="2.7"/><circle cx="431.8" cy="239" r="2.7"/><circle cx="437.8" cy="240.7" r="2.7"/><circle cx="442.1" cy="241.5" r="2.7"/><circle cx="449.8" cy="239.8" r="2.7"/><circle cx="408.6" cy="241.5" r="2.7"/><circle cx="394.2" cy="246.5" r="2.7"/><circle cx="408.5" cy="243.4" r="2.7"/><circle cx="407.5" cy="232.2" r="2.7"/><circle cx="412.6" cy="230.1" r="2.7"/><circle cx="419.8" cy="236.2" r="2.7"/><circle cx="422.8" cy="234.2" r="2.7"/><circle cx="421.8" cy="240.3" r="2.7"/><circle cx="419.8" cy="243" r="2.7"/><circle cx="432" cy="238.9" r="2.7"/><circle cx="436.1" cy="244.4" r="2.7"/><circle cx="440.2" cy="242.4" r="2.7"/><circle cx="444.3" cy="243.8" r="2.7"/><circle cx="449.4" cy="239.3" r="2.7"/><circle cx="439.2" cy="254.2" r="2.7"/><circle cx="426.9" cy="257.7" r="2.7"/><circle cx="434.1" cy="265.9" r="2.7"/><circle cx="417.7" cy="274.1" r="2.7"/><circle cx="461.7" cy="227.5" r="2.7"/><circle cx="385.5" cy="210.5" r="2.7"/><circle cx="391" cy="218.1" r="2.7"/><circle cx="394.2" cy="202.8" r="2.7"/><circle cx="401.9" cy="198.4" r="2.7"/><circle cx="406.3" cy="224.7" r="2.7"/><circle cx="412.8" cy="229" r="2.7"/><circle cx="419.4" cy="235.6" r="2.7"/><circle cx="454.4" cy="235.6" r="2.7"/><circle cx="461" cy="231.3" r="2.7"/><circle cx="467.5" cy="222.5" r="2.7"/><circle cx="476.3" cy="209.4" r="2.7"/><circle cx="495" cy="130" r="2.7"/><circle cx="495" cy="133" r="2.7"/></g>
<g fill="#ff0000"><circle cx="466" cy="186" r="2.7"/><circle cx="470" cy="190" r="2.7"/><circle cx="474" cy="194" r="2.7"/><circle cx="468" cy="197" r="2.7"/><circle cx="472" cy="200" r="2.7"/><circle cx="462" cy="194" r="2.7"/><circle cx="465" cy="189" r="2.7"/><circle cx="454.4" cy="183.8" r="2.7"/><circle cx="457.5" cy="180.6" r="2.7"/><circle cx="466.9" cy="183.8" r="2.7"/><circle cx="468.4" cy="188.4" r="2.7"/><circle cx="455.9" cy="191.6" r="2.7"/><circle cx="459.1" cy="188.4" r="2.7"/><circle cx="457.5" cy="196.3" r="2.7"/><circle cx="460.6" cy="200.9" r="2.7"/><circle cx="470" cy="199.4" r="2.7"/><circle cx="455.9" cy="202.5" r="2.7"/><circle cx="458.3" cy="205.6" r="2.7"/><circle cx="453" cy="186" r="2.7"/><circle cx="462" cy="186" r="2.7"/><circle cx="463" cy="191" r="2.7"/><circle cx="452" cy="195" r="2.7"/><circle cx="451" cy="205" r="2.7"/><circle cx="470" cy="184" r="2.7"/><circle cx="472" cy="192" r="2.7"/><circle cx="443.4" cy="191.6" r="2.7"/><circle cx="447.3" cy="190" r="2.7"/><circle cx="449.7" cy="189" r="2.7"/><circle cx="445" cy="188.8" r="2.7"/><circle cx="429" cy="203" r="2.7"/><circle cx="432" cy="207" r="2.7"/><circle cx="436" cy="210" r="2.7"/><circle cx="440" cy="206" r="2.7"/><circle cx="444" cy="204" r="2.7"/><circle cx="446.6" cy="208.8" r="2.7"/><circle cx="437.2" cy="212.2" r="2.7"/><circle cx="431" cy="216" r="2.7"/><circle cx="441.9" cy="196.3" r="2.7"/><circle cx="449.7" cy="200.9" r="2.7"/><circle cx="445" cy="206.4" r="2.7"/><circle cx="435.6" cy="210.3" r="2.7"/><circle cx="438.8" cy="211.9" r="2.7"/><circle cx="459.1" cy="211.9" r="2.7"/><circle cx="463.8" cy="211.9" r="2.7"/><circle cx="436" cy="219" r="2.7"/><circle cx="441" cy="222" r="2.7"/><circle cx="446" cy="218" r="2.7"/><circle cx="425.9" cy="247.5" r="2.7"/><circle cx="418.7" cy="257.3" r="2.7"/><circle cx="423.8" cy="256.7" r="2.7"/><circle cx="429" cy="256.7" r="2.7"/><circle cx="410.6" cy="263.9" r="2.7"/><circle cx="413.2" cy="262.8" r="2.7"/><circle cx="415.3" cy="261.8" r="2.7"/><circle cx="426.9" cy="235.2" r="2.7"/><circle cx="436.1" cy="235.2" r="2.7"/><circle cx="444.3" cy="235.2" r="2.7"/><circle cx="455.5" cy="236.2" r="2.7"/><circle cx="425.9" cy="227.5" r="2.7"/><circle cx="435" cy="228" r="2.7"/><circle cx="440" cy="230" r="2.7"/><circle cx="445" cy="228" r="2.7"/><circle cx="449.8" cy="226" r="2.7"/><circle cx="424.9" cy="226.9" r="2.7"/><circle cx="426.6" cy="235.5" r="2.7"/><circle cx="431" cy="215.8" r="2.7"/><circle cx="434.4" cy="223.5" r="2.7"/><circle cx="440" cy="225" r="2.7"/><circle cx="448" cy="231.2" r="2.7"/></g>
<g fill="#ffff00"><circle cx="540.3" cy="63.4" r="2.7"/><circle cx="539.4" cy="67.2" r="2.7"/><circle cx="539.4" cy="75.6" r="2.7"/><circle cx="542.2" cy="78.5" r="2.7"/><circle cx="537.5" cy="81.3" r="2.7"/><circle cx="543.1" cy="83.1" r="2.7"/><circle cx="546" cy="86" r="2.7"/><circle cx="541.3" cy="87.8" r="2.7"/><circle cx="536.6" cy="90.6" r="2.7"/><circle cx="533.8" cy="93.5" r="2.7"/><circle cx="543.1" cy="90.6" r="2.7"/><circle cx="538.5" cy="92.5" r="2.7"/><circle cx="525.3" cy="96.3" r="2.7"/><circle cx="531.9" cy="100" r="2.7"/><circle cx="526.3" cy="106.6" r="2.7"/><circle cx="529.1" cy="108.5" r="2.7"/><circle cx="537.5" cy="101.9" r="2.7"/><circle cx="539.4" cy="104.7" r="2.7"/><circle cx="541.3" cy="107.5" r="2.7"/><circle cx="543.1" cy="111.3" r="2.7"/><circle cx="537.5" cy="111.3" r="2.7"/><circle cx="546.9" cy="100" r="2.7"/><circle cx="550.6" cy="97.2" r="2.7"/><circle cx="554.4" cy="94.4" r="2.7"/><circle cx="549.7" cy="104.7" r="2.7"/><circle cx="545" cy="102.8" r="2.7"/><circle cx="565.7" cy="94.4" r="2.7"/><circle cx="567.5" cy="89.7" r="2.7"/><circle cx="571.3" cy="85" r="2.7"/><circle cx="575" cy="83.1" r="2.7"/><circle cx="578.8" cy="85" r="2.7"/><circle cx="571.3" cy="90.6" r="2.7"/><circle cx="569.4" cy="86.9" r="2.7"/><circle cx="574.1" cy="87.8" r="2.7"/><circle cx="595.7" cy="74.7" r="2.7"/><circle cx="598.5" cy="73.8" r="2.7"/><circle cx="601.3" cy="74.7" r="2.7"/><circle cx="602.2" cy="79.4" r="2.7"/><circle cx="621.6" cy="69.1" r="2.7"/><circle cx="596.3" cy="76" r="2.7"/><circle cx="600" cy="78" r="2.7"/><circle cx="604" cy="80" r="2.7"/><circle cx="609.4" cy="78" r="2.7"/><circle cx="616" cy="76.9" r="2.7"/><circle cx="527.3" cy="107" r="2.7"/><circle cx="534.4" cy="104" r="2.7"/><circle cx="532" cy="116" r="2.7"/><circle cx="535" cy="118" r="2.7"/><circle cx="530" cy="113" r="2.7"/><circle cx="549.9" cy="104.9" r="2.7"/><circle cx="541.3" cy="64.4" r="2.7"/><circle cx="398" cy="205" r="2.7"/><circle cx="401" cy="201" r="2.7"/><circle cx="404" cy="203" r="2.7"/><circle cx="407" cy="200" r="2.7"/><circle cx="410" cy="204" r="2.7"/><circle cx="403" cy="208" r="2.7"/><circle cx="407" cy="209" r="2.7"/><circle cx="404" cy="211.5" r="2.7"/><circle cx="412" cy="207" r="2.7"/><circle cx="392" cy="207.2" r="2.7"/><circle cx="385.1" cy="215.3" r="2.7"/><circle cx="425.5" cy="199" r="2.7"/><circle cx="430.5" cy="201" r="2.7"/><circle cx="436" cy="193" r="2.7"/><circle cx="439" cy="197.5" r="2.7"/><circle cx="443.7" cy="196" r="2.7"/><circle cx="446.6" cy="201" r="2.7"/><circle cx="448.6" cy="197.3" r="2.7"/><circle cx="434" cy="203.6" r="2.7"/><circle cx="426" cy="195" r="2.7"/><circle cx="455" cy="184" r="2.7"/><circle cx="458" cy="181" r="2.7"/><circle cx="461.4" cy="178" r="2.7"/><circle cx="465" cy="176" r="2.7"/><circle cx="468" cy="174" r="2.7"/><circle cx="478.7" cy="163.9" r="2.7"/><circle cx="477" cy="176.5" r="2.7"/><circle cx="479" cy="179" r="2.7"/><circle cx="473.1" cy="185.3" r="2.7"/><circle cx="474.7" cy="190" r="2.7"/><circle cx="466.9" cy="193.1" r="2.7"/><circle cx="463.8" cy="196.3" r="2.7"/><circle cx="471.6" cy="193.9" r="2.7"/><circle cx="462.2" cy="200.9" r="2.7"/><circle cx="474.7" cy="197" r="2.7"/><circle cx="466.9" cy="204.1" r="2.7"/><circle cx="465.3" cy="207.2" r="2.7"/><circle cx="459.1" cy="208.8" r="2.7"/><circle cx="457.5" cy="208.3" r="2.7"/><circle cx="463.8" cy="216.9" r="2.7"/><circle cx="452" cy="222.6" r="2.7"/><circle cx="455" cy="226" r="2.7"/><circle cx="458.4" cy="229" r="2.7"/><circle cx="454.5" cy="228" r="2.7"/><circle cx="430.9" cy="204.8" r="2.7"/></g>
<g fill="#ff0000"><circle cx="590" cy="20.3" r="2.7"/><circle cx="593.8" cy="18.4" r="2.7"/><circle cx="591.9" cy="23.5" r="2.7"/><circle cx="581.6" cy="28.8" r="2.7"/><circle cx="582.5" cy="27.8" r="2.7"/><circle cx="570.4" cy="38.5" r="2.7"/><circle cx="576" cy="43.4" r="2.7"/><circle cx="577.9" cy="44.3" r="2.7"/><circle cx="549.7" cy="53.8" r="2.7"/><circle cx="566.6" cy="54.7" r="2.7"/><circle cx="574.1" cy="55.6" r="2.7"/><circle cx="593.4" cy="66.3" r="2.7"/><circle cx="549.7" cy="55.9" r="2.7"/><circle cx="565.7" cy="55" r="2.7"/><circle cx="575" cy="55.9" r="2.7"/><circle cx="562.8" cy="62.5" r="2.7"/><circle cx="576" cy="61.6" r="2.7"/><circle cx="579.7" cy="64.4" r="2.7"/><circle cx="547.8" cy="68.1" r="2.7"/><circle cx="548.8" cy="72.8" r="2.7"/><circle cx="569.4" cy="71.9" r="2.7"/><circle cx="573.2" cy="72.8" r="2.7"/><circle cx="581.6" cy="72.8" r="2.7"/><circle cx="575" cy="78.5" r="2.7"/><circle cx="563.8" cy="80.3" r="2.7"/><circle cx="561.9" cy="83.1" r="2.7"/><circle cx="546.9" cy="81.3" r="2.7"/><circle cx="535.6" cy="85" r="2.7"/><circle cx="548.8" cy="88.8" r="2.7"/><circle cx="554.4" cy="86.9" r="2.7"/><circle cx="560" cy="87.8" r="2.7"/><circle cx="539.4" cy="94.4" r="2.7"/><circle cx="544.1" cy="95.3" r="2.7"/><circle cx="547.8" cy="98.2" r="2.7"/><circle cx="554.4" cy="100" r="2.7"/><circle cx="541.3" cy="98.2" r="2.7"/><circle cx="552.5" cy="92.5" r="2.7"/><circle cx="558.2" cy="92.5" r="2.7"/><circle cx="545" cy="91.6" r="2.7"/><circle cx="537.5" cy="97.2" r="2.7"/><circle cx="543.1" cy="101" r="2.7"/><circle cx="563.8" cy="90.6" r="2.7"/><circle cx="533.8" cy="109.4" r="2.7"/><circle cx="592.9" cy="67.2" r="2.7"/><circle cx="530" cy="114.1" r="2.7"/><circle cx="533" cy="109.8" r="2.7"/><circle cx="541.4" cy="101" r="2.7"/><circle cx="548" cy="101" r="2.7"/><circle cx="554" cy="102.8" r="2.7"/></g>
<line x1="503.4" y1="286.7" x2="503.4" y2="6.6" stroke="#c4c4c4" stroke-width="0.95" stroke-dasharray="3.3 2.5"/>
<line x1="341.4" y1="142" x2="679" y2="142" stroke="#c4c4c4" stroke-width="0.95" stroke-dasharray="3.3 2.5"/>
<line x1="352.1" y1="286.3" x2="645.6" y2="7.5" stroke="#2a2a2a" stroke-width="1.05" stroke-dasharray="3.1 2.7"/>
<g stroke="#000" stroke-width="1.07" fill="none"><line x1="28.2" y1="8.4" x2="28.2" y2="287.8"/><line x1="27.7" y1="287.3" x2="308.5" y2="287.3"/></g><g stroke="#333" stroke-width="1.07"><line x1="83.7" y1="287.3" x2="83.7" y2="290.3"/><line x1="171.7" y1="287.3" x2="171.7" y2="290.3"/><line x1="259.8" y1="287.3" x2="259.8" y2="290.3"/><line x1="25.2" y1="67.4" x2="28.2" y2="67.4"/><line x1="25.2" y1="154.7" x2="28.2" y2="154.7"/><line x1="25.2" y1="242" x2="28.2" y2="242"/></g><g fill="#4d4d4d" font-family="Liberation Sans, Arial, sans-serif" font-size="10px"><text x="83.7" y="300.3" text-anchor="middle">-1</text><text x="171.7" y="300.3" text-anchor="middle">0</text><text x="259.8" y="300.3" text-anchor="middle">1</text><text x="22.7" y="71.4" text-anchor="end">1</text><text x="22.7" y="158.7" text-anchor="end">0</text><text x="22.7" y="246" text-anchor="end">-1</text></g>
<g stroke="#000" stroke-width="1.07" fill="none"><line x1="341.4" y1="6.6" x2="341.4" y2="287.2"/><line x1="340.9" y1="286.7" x2="678.8" y2="286.7"/></g><g stroke="#333" stroke-width="1.07"><line x1="388.6" y1="286.7" x2="388.6" y2="289.7"/><line x1="446" y1="286.7" x2="446" y2="289.7"/><line x1="503.4" y1="286.7" x2="503.4" y2="289.7"/><line x1="560.8" y1="286.7" x2="560.8" y2="289.7"/><line x1="618.2" y1="286.7" x2="618.2" y2="289.7"/><line x1="675.6" y1="286.7" x2="675.6" y2="289.7"/><line x1="338.4" y1="33.4" x2="341.4" y2="33.4"/><line x1="338.4" y1="87.7" x2="341.4" y2="87.7"/><line x1="338.4" y1="142" x2="341.4" y2="142"/><line x1="338.4" y1="196.3" x2="341.4" y2="196.3"/><line x1="338.4" y1="250.6" x2="341.4" y2="250.6"/></g><g fill="#4d4d4d" font-family="Liberation Sans, Arial, sans-serif" font-size="10px"><text x="388.6" y="299.7" text-anchor="middle">-1.0</text><text x="446" y="299.7" text-anchor="middle">-0.5</text><text x="503.4" y="299.7" text-anchor="middle">0.0</text><text x="560.8" y="299.7" text-anchor="middle">0.5</text><text x="618.2" y="299.7" text-anchor="middle">1.0</text><text x="675.6" y="299.7" text-anchor="middle">1.5</text><text x="335.9" y="37.4" text-anchor="end">1.0</text><text x="335.9" y="91.7" text-anchor="end">0.5</text><text x="335.9" y="146" text-anchor="end">0.0</text><text x="335.9" y="200.3" text-anchor="end">-0.5</text><text x="335.9" y="254.6" text-anchor="end">-1.0</text></g>
<g fill="#000" font-family="Liberation Sans, Arial, sans-serif" font-size="11.5px">
<text x="174.2" y="319.5" text-anchor="middle" textLength="97.8" lengthAdjust="spacingAndGlyphs">Beta effect for PCV</text>
<text x="507.1" y="319.5" text-anchor="middle" textLength="98.4" lengthAdjust="spacingAndGlyphs">Beta effect for PCV</text>
<text transform="translate(9.1,147.7) rotate(-90)" text-anchor="middle" textLength="146" lengthAdjust="spacingAndGlyphs">Beta effect for typical&#160; nAMD</text>
<text transform="translate(316.9,147.3) rotate(-90)" text-anchor="middle" textLength="143.2" lengthAdjust="spacingAndGlyphs">Beta effect for typical nAMD</text>
</g>
<g font-family="Liberation Serif, Times New Roman, serif" font-size="12.4px" fill="#000" stroke="#000" stroke-width="0.15">
<circle cx="36" cy="19.5" r="2.7" fill="#0000ff" stroke="none"/>
<circle cx="36" cy="32.4" r="2.7" fill="#ffff00" stroke="none"/>
<circle cx="36" cy="46.8" r="2.7" fill="#ff0000" stroke="none"/>
<text x="43" y="22.6" font-style="italic" textLength="23.4" lengthAdjust="spacingAndGlyphs">MAF</text>
<text x="70.2" y="22.6" textLength="11.3" lengthAdjust="spacingAndGlyphs">25</text>
<text x="85.5" y="22.6" textLength="7.6" lengthAdjust="spacingAndGlyphs">−</text>
<text x="96" y="22.6" textLength="23.3" lengthAdjust="spacingAndGlyphs">50%</text>
<text x="43" y="35.7" font-style="italic" textLength="23.4" lengthAdjust="spacingAndGlyphs">MAF</text>
<text x="70.4" y="35.7" textLength="11.6" lengthAdjust="spacingAndGlyphs">10</text>
<text x="85.5" y="35.7" textLength="7.6" lengthAdjust="spacingAndGlyphs">−</text>
<text x="96.2" y="35.7" textLength="23" lengthAdjust="spacingAndGlyphs">25%</text>
<text x="43" y="50.2" font-style="italic" textLength="23.4" lengthAdjust="spacingAndGlyphs">MAF</text>
<text x="70.6" y="50.2" textLength="5" lengthAdjust="spacingAndGlyphs">1</text>
<text x="78.9" y="50.2" textLength="7.6" lengthAdjust="spacingAndGlyphs">−</text>
<text x="90.6" y="50.2" textLength="22.3" lengthAdjust="spacingAndGlyphs">10%</text>
<circle cx="349.5" cy="18" r="2.5" fill="#0000ff" stroke="none"/>
<circle cx="349.5" cy="31.4" r="2.5" fill="#ffff00" stroke="none"/>
<circle cx="349.5" cy="45.4" r="2.5" fill="#ff0000" stroke="none"/>
<text x="356" y="20.5" font-style="italic" textLength="24.6" lengthAdjust="spacingAndGlyphs">Both</text>
<text x="383.8" y="20.5" textLength="25.8" lengthAdjust="spacingAndGlyphs">1×10</text>
<text x="410.2" y="16.9" font-size="8.6px" textLength="11" lengthAdjust="spacingAndGlyphs">−5</text>
<text x="425.5" y="20.5" textLength="7.9" lengthAdjust="spacingAndGlyphs">&lt;</text>
<text x="437" y="20.5" font-style="italic" textLength="7.6" lengthAdjust="spacingAndGlyphs">P</text>
<text x="447.8" y="20.5" textLength="8.4" lengthAdjust="spacingAndGlyphs">≤</text>
<text x="459.6" y="20.5" textLength="21" lengthAdjust="spacingAndGlyphs">0.05</text>
<text x="356" y="34.3" font-style="italic" textLength="24.6" lengthAdjust="spacingAndGlyphs">Both</text>
<text x="383.8" y="34.3" textLength="25.8" lengthAdjust="spacingAndGlyphs">5×10</text>
<text x="410.2" y="30.7" font-size="8.6px" textLength="11" lengthAdjust="spacingAndGlyphs">−8</text>
<text x="425.5" y="34.3" textLength="7.9" lengthAdjust="spacingAndGlyphs">&lt;</text>
<text x="437" y="34.3" font-style="italic" textLength="7.6" lengthAdjust="spacingAndGlyphs">P</text>
<text x="447.8" y="34.3" textLength="8.4" lengthAdjust="spacingAndGlyphs">≤</text>
<text x="459.6" y="34.3" textLength="26.4" lengthAdjust="spacingAndGlyphs">1×10</text>
<text x="486.6" y="30.7" font-size="8.6px" textLength="11" lengthAdjust="spacingAndGlyphs">−5</text>
<text x="356" y="48.1" font-style="italic" textLength="24.6" lengthAdjust="spacingAndGlyphs">Both</text>
<text x="383" y="48.1" font-style="italic" textLength="7.6" lengthAdjust="spacingAndGlyphs">P</text>
<text x="393.9" y="48.1" textLength="8.4" lengthAdjust="spacingAndGlyphs">≤</text>
<text x="405.7" y="48.1" textLength="26.8" lengthAdjust="spacingAndGlyphs">5×10</text>
<text x="432.9" y="44.5" font-size="8.6px" textLength="11" lengthAdjust="spacingAndGlyphs">−8</text>
</g>
</svg>
</body></html>
